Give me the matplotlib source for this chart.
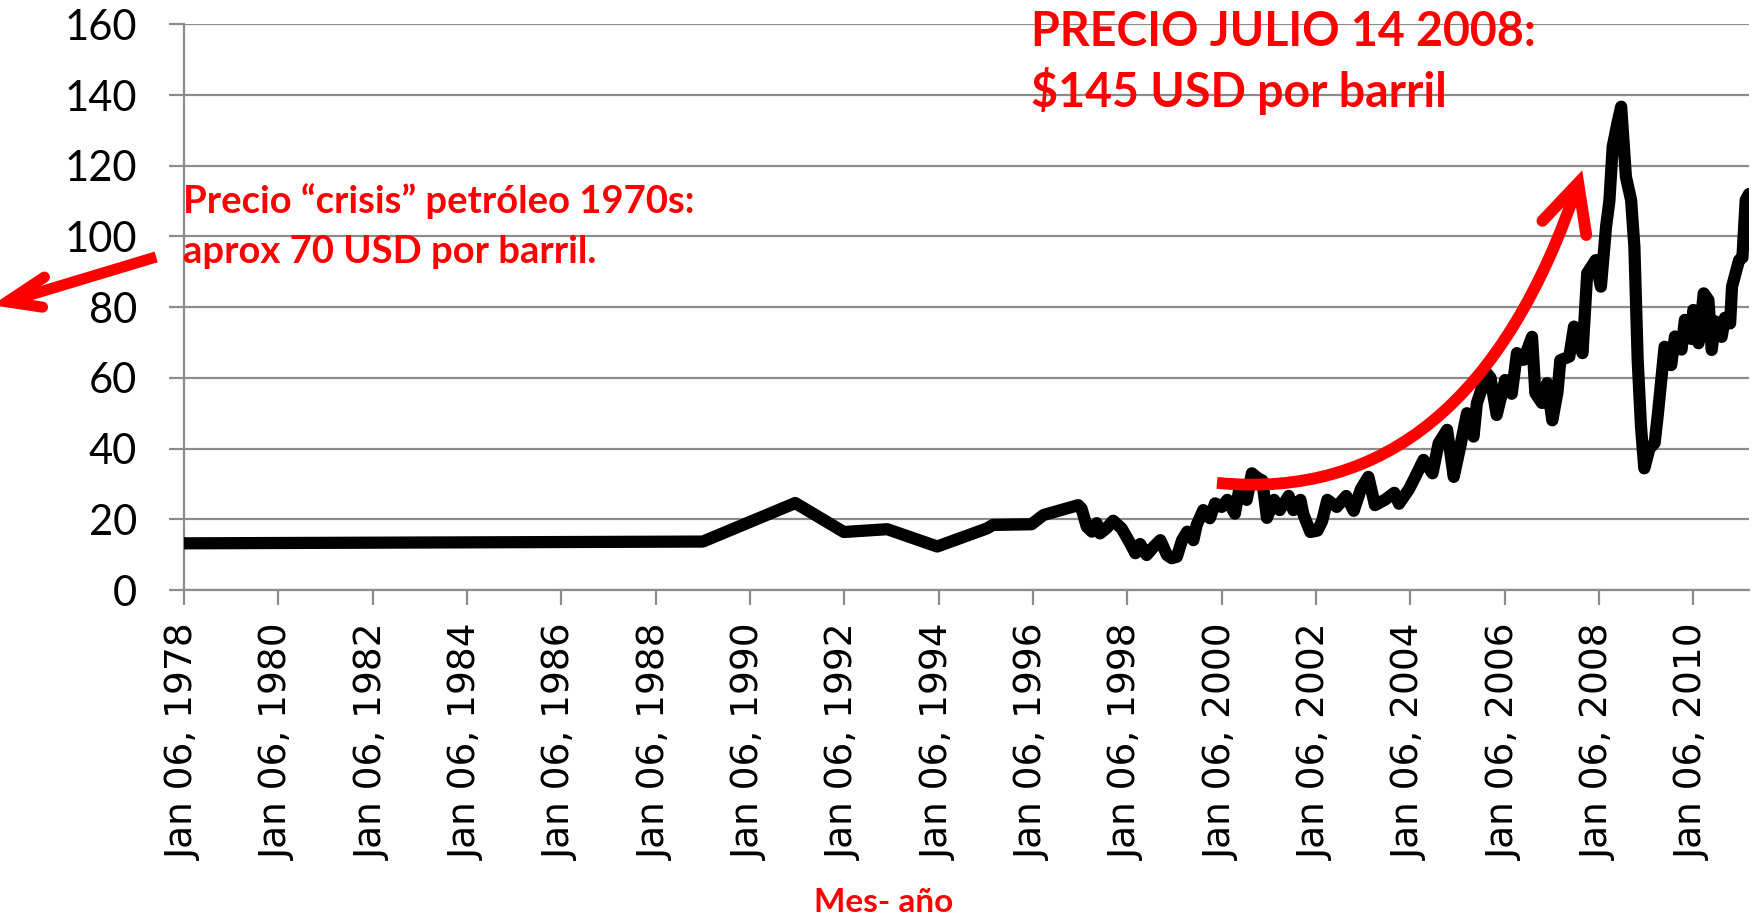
import matplotlib.pyplot as plt
from matplotlib.path import Path
from matplotlib.patches import PathPatch

# precio del petroleo (USD por barril)
years = [1978.00, 1989.00, 1990.96, 1991.99, 1992.91, 1993.97, 1995.02, 1995.15,
         1995.97, 1996.22, 1996.96, 1997.03, 1997.14, 1997.25, 1997.35, 1997.42,
         1997.56, 1997.70, 1997.88, 1998.06, 1998.17, 1998.27, 1998.41, 1998.55,
         1998.70, 1998.84, 1998.94, 1999.05, 1999.16, 1999.27, 1999.40, 1999.47,
         1999.61, 1999.75, 1999.86, 2000.00, 2000.12, 2000.28, 2000.39, 2000.53,
         2000.64, 2000.78, 2000.86, 2000.96, 2001.11, 2001.23, 2001.42, 2001.52,
         2001.67, 2001.73, 2001.88, 2002.03, 2002.13, 2002.24, 2002.44, 2002.64,
         2002.80, 2002.95, 2003.11, 2003.25, 2003.46, 2003.66, 2003.76, 2003.97,
         2004.07, 2004.28, 2004.47, 2004.60, 2004.78, 2004.92, 2005.06, 2005.20,
         2005.34, 2005.41, 2005.62, 2005.70, 2005.83, 2006.01, 2006.15, 2006.26,
         2006.40, 2006.58, 2006.65, 2006.79, 2006.90, 2007.01, 2007.12, 2007.18,
         2007.37, 2007.47, 2007.65, 2007.75, 2007.93, 2008.04, 2008.15, 2008.22,
         2008.29, 2008.39, 2008.47, 2008.57, 2008.68, 2008.75, 2008.82, 2008.89,
         2008.96, 2009.07, 2009.18, 2009.25, 2009.39, 2009.53, 2009.61, 2009.75,
         2009.82, 2009.96, 2010.00, 2010.11, 2010.22, 2010.32, 2010.39, 2010.46,
         2010.60, 2010.67, 2010.78, 2010.82, 2010.97, 2011.04, 2011.11, 2011.18]
price = [13.2, 13.7, 24.6, 16.4, 17.2, 12.3, 17.4, 18.4,
         18.6, 21.2, 24.0, 23.0, 17.9, 16.5, 18.9, 16.0,
         17.5, 19.6, 17.4, 13.2, 10.4, 13.0, 9.9, 12.1,
         14.1, 9.9, 9.0, 9.4, 14.1, 16.5, 14.1, 18.4,
         22.6, 20.3, 24.5, 23.5, 25.5, 21.6, 29.7, 25.5,
         33.0, 31.5, 31.0, 20.4, 25.5, 22.6, 26.6, 22.6,
         25.5, 21.5, 16.4, 16.8, 19.5, 25.5, 23.5, 26.6,
         22.4, 28.5, 32.0, 24.0, 25.5, 27.5, 24.4, 28.5,
         31.1, 36.8, 33.0, 41.5, 45.3, 32.0, 40.7, 50.0,
         43.4, 52.8, 61.3, 60.0, 49.5, 59.4, 55.5, 67.0,
         65.1, 71.6, 55.7, 52.9, 58.5, 48.0, 56.0, 65.0,
         66.0, 74.5, 67.0, 89.6, 93.3, 85.8, 102.8, 110.0,
         125.4, 132.0, 136.7, 116.9, 110.3, 97.1, 65.0, 46.2,
         34.4, 40.0, 41.6, 50.0, 68.8, 63.6, 71.7, 68.0,
         76.4, 71.0, 79.2, 69.8, 83.9, 82.0, 67.9, 76.0,
         71.6, 77.0, 75.4, 85.8, 93.3, 94.0, 110.3, 112.0]

tick_years = list(range(1978, 2011, 2))
tick_labels = ['Jan 06, %d' % y for y in tick_years]
y_ticks = list(range(0, 161, 20))

red = '#ff0000'
grey = '#8c8c8c'
narrow = ['Lato', 'DejaVu Sans']

W, H = 1752, 919
fig = plt.figure(figsize=(W / 100, H / 100), dpi=100)
ax = fig.add_axes([184 / W, 1 - 590 / H, (1749 - 184) / W, (590 - 24.3) / H])

ax.plot(years, price, color='black', lw=8.8,
        solid_joinstyle='round', solid_capstyle='round', zorder=3)

ax.set_xlim(1978, 2011.18)
ax.set_ylim(0, 160)
ax.set_xticks(tick_years)
ax.set_xticklabels(tick_labels, rotation=90, fontsize=27, family='DejaVu Sans')
ax.set_yticks(y_ticks)
ax.set_yticklabels([str(v) for v in y_ticks], fontsize=30, family=narrow)

ax.grid(axis='y', color=grey, lw=1.6)
ax.grid(axis='x', visible=False)
ax.set_axisbelow(True)
for s in ['top', 'right']:
    ax.spines[s].set_visible(False)
for s in ['left', 'bottom']:
    ax.spines[s].set_color(grey)
    ax.spines[s].set_linewidth(1.6)
ax.tick_params(axis='x', direction='out', length=11, width=1.6, color=grey, pad=13)
ax.tick_params(axis='y', direction='out', length=11, width=1.6, color=grey, pad=23)

# flecha curva roja (subida 2000-2008)
curve = Path([(1999.90, 30.3), (2005.25, 23.2), (2007.56, 115.1)],
             [Path.MOVETO, Path.CURVE3, Path.CURVE3])
ax.add_patch(PathPatch(curve, fill=False, edgecolor=red, lw=8.5,
                       capstyle='butt', zorder=4))
ax.plot([2006.80, 2007.56, 2007.73], [104.4, 115.1, 100.4], color=red, lw=8.5,
        solid_capstyle='round', solid_joinstyle='miter', zorder=4)

# flecha roja hacia la izquierda (crisis 1970s)
ax.plot([1977.41, 1974.25], [94.2, 81.5], color=red, lw=8,
        solid_capstyle='butt', clip_on=False, zorder=4)
ax.plot([1975.04, 1974.25, 1975.00], [88.5, 81.5, 80.0], color=red, lw=8,
        solid_capstyle='round', solid_joinstyle='miter', clip_on=False, zorder=4)

fig.text(1031 / W, 1 - 46 / H, 'PRECIO JULIO 14 2008:', color=red, fontsize=33.5,
         fontweight='bold', family=narrow, va='baseline', ha='left')
fig.text(1031 / W, 1 - 107 / H, '$145 USD por barril', color=red, fontsize=33.5,
         fontweight='bold', family=narrow, va='baseline', ha='left')
fig.text(183 / W, 1 - 213 / H, 'Precio \u201ccrisis\u201d petróleo 1970s:', color=red,
         fontsize=27.5, fontweight='bold', family=narrow, va='baseline', ha='left')
fig.text(183 / W, 1 - 263 / H, 'aprox 70 USD por barril.', color=red,
         fontsize=27.5, fontweight='bold', family=narrow, va='baseline', ha='left')
fig.text(884 / W, 1 - 903 / H, 'Mes- año', color=red, fontsize=24,
         fontweight='bold', family=narrow, va='center', ha='center')

fig.savefig('out.png', dpi=100)
